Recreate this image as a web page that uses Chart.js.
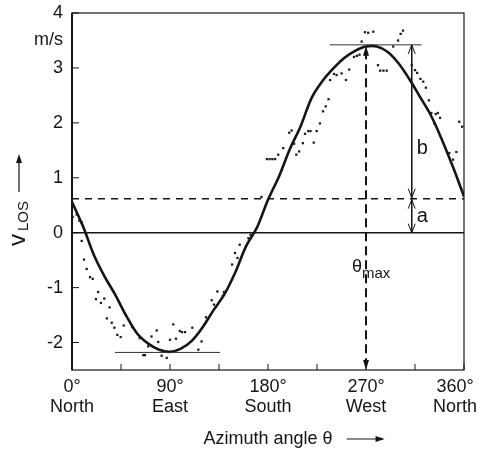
<!DOCTYPE html>
<html>
<head>
<meta charset="utf-8">
<script src="https://cdn.jsdelivr.net/npm/chart.js@4/dist/chart.umd.min.js"></script>
<style>
  html, body { margin: 0; padding: 0; background: #fff; }
  #wrap { width: 478px; height: 450px; }
</style>
</head>
<body>
<div id="wrap"><canvas id="vlosChart" width="478" height="450"></canvas></div>
<script>
/* ============================================================
   DATOS
============================================================ */
// curva ajustada, cada 10 grados
const curveAngles = [0,10,20,30,40,50,60,70,80,90,100,110,120,130,140,150,160,170,180,
                     190,200,210,220,230,240,250,260,270,280,290,300,310,320,330,340,350,360];
const curveValues = [0.56,0.12,-0.40,-0.80,-1.14,-1.52,-1.84,-2.02,-2.13,-2.17,-2.11,-1.97,-1.72,-1.41,-1.12,-0.72,-0.24,0.10,0.60,
                     1.02,1.52,1.94,2.45,2.76,2.99,3.18,3.31,3.39,3.39,3.29,3.08,2.79,2.46,2.12,1.68,1.19,0.66];

// medidas (puntos)
const obsAngles = [0.6,4.3,6.7,8.9,8.9,11,13.5,16.5,19,22,24,26.6,29.7,32,34.5,36.5,38.9,41.6,44.7,47.5,
                   55.4,62.2,65.5,67,70,73,77.8,79.2,82.3,87,90,93,95.5,99,101,103.8,110.5,116,119,123,
                   128.3,130.4,133.5,138.4,139.5,147,149.7,152,154,162,164,174,179,181.5,184,186.5,189.4,194,
                   199.5,201.7,204,206,208.6,212,214,217,219,222,224.7,227.7,230.5,233,235.6,237,240.6,243,
                   247.6,251.6,254.6,259,261.6,264,266,269,272,276.7,281,283,286,289,295,299.5,301.8,304,
                   312,315,317,320,322.6,325,327.8,330,332.7,334,336,338,346.5,350,353,355.6,358.3];
const obsValues = [0.29,0.33,0.22,0.19,-0.15,-0.49,-0.66,-0.81,-0.84,-1.21,-1.08,-1.28,-1.20,-1.56,-1.36,-1.64,-1.73,-1.86,-1.90,-1.69,
                   -1.72,-1.92,-2.23,-2.23,-2.07,-1.89,-1.78,-1.99,-2.24,-2.28,-1.95,-1.67,-1.93,-1.79,-1.81,-1.81,-1.73,-2.13,-1.98,-1.54,
                   -1.23,-1.31,-1.07,-1.15,-1.08,-0.58,-0.37,-0.46,-0.22,-0.10,-0.04,0.65,1.34,1.34,1.34,1.34,1.42,1.54,
                   1.82,1.86,1.62,1.42,1.48,1.63,1.80,1.85,1.85,1.64,1.85,1.99,2.21,2.30,2.43,2.78,2.89,2.87,
                   2.90,2.78,2.97,3.20,3.22,3.24,3.48,3.65,3.64,3.66,3.05,2.95,2.95,2.95,3.39,3.50,3.62,3.68,
                   3.05,2.96,2.91,2.80,2.75,2.64,2.41,2.18,1.99,2.16,2.18,2.09,1.45,1.33,1.47,2.02,1.93];

const xTickValues = [0,45,90,135,180,225,270,315,360];
const xTickLabels = { 0: ['0°','North'], 90: ['90°','East'], 180: ['180°','South'], 270: ['270°','West'], 360: ['360°','North'] };
const yTickValues = [-2,-1,0,1,2,3,4];

const offsetA  = 0.62;        // nivel a (discontinua)
const peakV    = 3.42;        // máximo
const minV     = -2.18;       // mínimo
const thetaMax = 270;
const arrowAt  = 312;         // flechas a y b
const peakSpan = [237, 321];
const minSpan  = [39.5, 136];

const FONT = "'Liberation Sans', Arial, Helvetica, sans-serif";
const INK  = '#151515';

const pts = (xs, ys) => xs.map((v, i) => ({ x: v, y: ys[i] }));
const seg = (x0, y0, x1, y1) => [{ x: x0, y: y0 }, { x: x1, y: y1 }];

/* ============================================================
   ANOTACIONES
============================================================ */
function line(ctx, x0, y0, x1, y1) {
    ctx.beginPath(); ctx.moveTo(x0, y0); ctx.lineTo(x1, y1); ctx.stroke();
}
function openHead(ctx, x, y, dir) {   // dir -1 arriba, 1 abajo
    ctx.beginPath();
    ctx.moveTo(x - 3.5, y - dir * 9); ctx.lineTo(x, y); ctx.lineTo(x + 3.5, y - dir * 9);
    ctx.stroke();
}
function solidHead(ctx, x, y, dir) {
    ctx.beginPath();
    ctx.moveTo(x - 3, y - dir * 10); ctx.lineTo(x, y); ctx.lineTo(x + 3, y - dir * 10);
    ctx.closePath(); ctx.fill();
}

const overlay = {
    id: 'overlay',
    afterDraw(chart) {
        const { ctx, chartArea: ca, scales: { x, y } } = chart;
        ctx.save();
        ctx.strokeStyle = INK; ctx.fillStyle = INK;

        // marco
        ctx.lineWidth = 1.2;
        ctx.strokeRect(ca.left, ca.top, ca.right - ca.left, ca.bottom - ca.top);
        ctx.lineWidth = 2;
        line(ctx, ca.left, ca.top, ca.left, ca.bottom);

        // ticks hacia dentro
        ctx.lineWidth = 1;
        xTickValues.forEach(v => { const px = x.getPixelForValue(v); line(ctx, px, ca.bottom, px, ca.bottom - 6); });
        yTickValues.forEach(v => { const py = y.getPixelForValue(v); line(ctx, ca.left, py, ca.left + 7, py); });

        // etiquetas eje x
        ctx.font = `18px ${FONT}`;
        ctx.textAlign = 'center'; ctx.textBaseline = 'middle';
        Object.keys(xTickLabels).forEach(k => {
            const lbl = xTickLabels[k];
            const wMax = Math.max(...lbl.map(s => ctx.measureText(s).width));
            let px = x.getPixelForValue(+k);
            px = Math.min(px, chart.width - wMax / 2 - 1);
            lbl.forEach((s, i) => ctx.fillText(s, px, ca.bottom + 17 + i * 20.5));
        });

        // flecha del título x
        const tw = ctx.measureText('Azimuth angle θ').width;
        const tx = (ca.left + ca.right) / 2 + tw / 2 + 14;
        ctx.lineWidth = 1.2;
        line(ctx, tx, 439, tx + 36, 439);
        ctx.beginPath(); ctx.moveTo(tx + 38, 439); ctx.lineTo(tx + 29, 436); ctx.lineTo(tx + 29, 442); ctx.closePath(); ctx.fill();

        // título eje y: v_LOS ->
        ctx.save();
        ctx.translate(25, 246); ctx.rotate(-Math.PI / 2);
        ctx.textAlign = 'left'; ctx.textBaseline = 'alphabetic';
        ctx.font = `24px ${FONT}`;
        ctx.fillText('v', 0, 0);
        const vw = ctx.measureText('v').width;
        ctx.font = `15px ${FONT}`;
        ctx.fillText('LOS', vw + 3, 3);
        const lw = ctx.measureText('LOS').width;
        const ax = vw + lw + 12;
        ctx.lineWidth = 1.2;
        line(ctx, ax, -6, ax + 35, -6);
        ctx.beginPath(); ctx.moveTo(ax + 38, -6); ctx.lineTo(ax + 29, -9); ctx.lineTo(ax + 29, -3); ctx.closePath(); ctx.fill();
        ctx.restore();

        // flecha theta_max
        const xm = x.getPixelForValue(thetaMax);
        solidHead(ctx, xm, y.getPixelForValue(peakV) + 1, -1);
        solidHead(ctx, xm, ca.bottom, 1);

        // flechas b y a
        const xa = x.getPixelForValue(arrowAt);
        const yP = y.getPixelForValue(peakV), yA = y.getPixelForValue(offsetA), y0 = y.getPixelForValue(0);
        ctx.lineWidth = 1;
        openHead(ctx, xa, yP, -1);
        openHead(ctx, xa, yA - 1, 1);
        openHead(ctx, xa, yA + 1, -1);
        openHead(ctx, xa, y0, 1);

        // textos
        ctx.textAlign = 'left'; ctx.textBaseline = 'alphabetic';
        ctx.font = `20px ${FONT}`;
        ctx.fillText('b', xa + 5, (yP + yA) / 2 + 32);
        ctx.fillText('a', xa + 5, (yA + y0) / 2 + 6);
        ctx.font = `18px ${FONT}`;
        ctx.fillText('θ', xm - 14, 272);
        ctx.font = `15px ${FONT}`;
        ctx.fillText('max', xm - 4, 278);
        ctx.restore();
    }
};

/* ============================================================
   GRÁFICO
============================================================ */
const thin = (data, opts) => Object.assign({ data, showLine: true, pointRadius: 0, borderColor: INK, borderWidth: 1, fill: false }, opts);

new Chart(document.getElementById('vlosChart'), {
    type: 'scatter',
    data: {
        datasets: [
            thin(seg(0, 0, 360, 0), { borderWidth: 1.6 }),
            thin(seg(0, offsetA, 360, offsetA), { borderWidth: 1.5, borderDash: [7, 6] }),
            thin(seg(peakSpan[0], peakV, peakSpan[1], peakV), { borderColor: '#333' }),
            thin(seg(minSpan[0], minV, minSpan[1], minV), { borderColor: '#333' }),
            thin(seg(thetaMax, peakV - 0.1, thetaMax, -2.45), { borderWidth: 2, borderDash: [9, 5] }),
            thin(seg(arrowAt, peakV, arrowAt, offsetA)),
            thin(seg(arrowAt, offsetA, arrowAt, 0)),
            { data: pts(obsAngles, obsValues), pointStyle: 'rect', pointRadius: 1.6, pointBackgroundColor: '#1a1a1a', pointBorderWidth: 0, showLine: false },
            thin(pts(curveAngles, curveValues), { borderWidth: 2.6, tension: 0.35 })
        ]
    },
    options: {
        responsive: false,
        animation: false,
        events: [],
        layout: { padding: { top: 13, right: 14, left: 0, bottom: 0 } },
        plugins: { legend: { display: false }, tooltip: { enabled: false } },
        scales: {
            x: {
                type: 'linear', min: 0, max: 360,
                grid: { display: false, drawTicks: false },
                border: { display: false },
                ticks: { display: false },
                title: { display: true, text: 'Azimuth angle θ', color: INK, font: { family: FONT, size: 18 }, padding: { top: 0, bottom: 0 } },
                afterFit: s => { s.height = 80; s.paddingLeft = 0; s.paddingRight = 0; }
            },
            y: {
                min: -2.5, max: 4,
                grid: { display: false, drawTicks: false },
                border: { display: false },
                afterBuildTicks: s => { s.ticks = [-2, -1, 0, 1, 2, 3, 3.5, 4].map(v => ({ value: v })); },
                ticks: {
                    padding: 9, color: INK, font: { family: FONT, size: 18 },
                    callback: v => v === 3.5 ? 'm/s' : String(v)
                },
                afterFit: s => { s.width = 72; s.paddingTop = 0; s.paddingBottom = 0; }
            }
        }
    },
    plugins: [overlay]
});
</script>
</body>
</html>
